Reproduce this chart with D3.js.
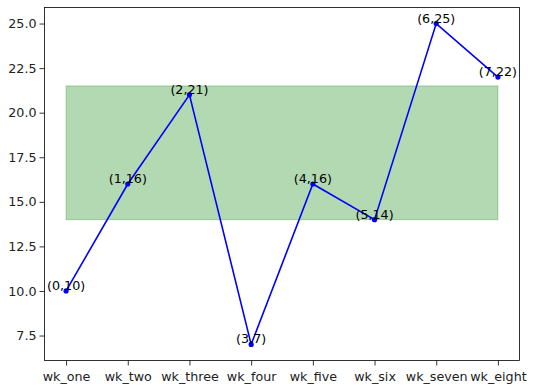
<!DOCTYPE html>
<html>
<head>
<meta charset="utf-8">
<script src="https://cdn.jsdelivr.net/npm/d3@7"></script>
<style>
  body { margin: 0; background: white; }
  text { font-family: "DejaVu Sans", sans-serif; }
</style>
</head>
<body>
<main></main>
<script>
const weeks = ["wk_one", "wk_two", "wk_three", "wk_four", "wk_five", "wk_six", "wk_seven", "wk_eight"]
const values = [10, 16, 21, 7, 16, 14, 25, 22]
const yTicks = [7.5, 10.0, 12.5, 15.0, 17.5, 20.0, 22.5, 25.0]
const band = [14, 21.5]

const svgWidth = 533
const svgHeight = 391
const padLeft = 44.5, padRight = 519.5, padTop = 7.5, padBottom = 360.5
const fontSize = "12.7px"

let svg = d3.select("main")
    .append("svg")
    .attr("width", svgWidth)
    .attr("height", svgHeight)
    .style("display", "block")

let xScale = d3.scaleLinear()
    .domain([-0.35, values.length - 1 + 0.35])
    .range([padLeft, padRight])

let yScale = d3.scaleLinear()
    .domain([6.1, 25.9])
    .range([padBottom, padTop])

// shaded band
svg.append("rect")
    .attr("x", xScale(0))
    .attr("y", yScale(band[1]))
    .attr("width", xScale(values.length - 1) - xScale(0))
    .attr("height", yScale(band[0]) - yScale(band[1]))
    .attr("fill", "green")
    .attr("fill-opacity", 0.3)
    .attr("stroke", "green")
    .attr("stroke-opacity", 0.3)
    .attr("stroke-width", 1)

let line = d3.line()
    .x((d, i) => xScale(i))
    .y(d => yScale(d))

svg.append("path")
    .datum(values)
    .attr("d", line)
    .attr("fill", "none")
    .attr("stroke", "blue")
    .attr("stroke-width", 1.6)

svg.selectAll("circle")
    .data(values)
    .enter()
    .append("circle")
    .attr("cx", (d, i) => xScale(i))
    .attr("cy", d => yScale(d))
    .attr("r", 2.6)
    .attr("fill", "blue")

svg.selectAll("text.lbl")
    .data(values)
    .enter()
    .append("text")
    .attr("class", "lbl")
    .attr("x", (d, i) => xScale(i))
    .attr("y", d => yScale(d))
    .attr("dy", -1)
    .attr("text-anchor", "middle")
    .style("font-size", fontSize)
    .attr("fill", "black")
    .text((d, i) => `(${i},${d})`)

let xAxis = svg.append("g")
    .attr("transform", `translate(0, ${padBottom})`)
    .call(d3.axisBottom(xScale)
        .tickValues(d3.range(weeks.length))
        .tickFormat(i => weeks[i])
        .tickSize(5)
        .tickPadding(6)
        .tickSizeOuter(0))

let yAxis = svg.append("g")
    .attr("transform", `translate(${padLeft}, 0)`)
    .call(d3.axisLeft(yScale)
        .tickValues(yTicks)
        .tickFormat(d3.format(".1f"))
        .tickSize(5)
        .tickPadding(3)
        .tickSizeOuter(0))

for (let ax of [xAxis, yAxis]) {
    ax.select("path").remove()
    ax.selectAll("text")
        .style("font-size", fontSize)
        .style("font-family", "DejaVu Sans, sans-serif")
        .attr("fill", "#222")
    ax.selectAll("line").attr("stroke", "black").attr("stroke-width", 0.8)
}

// axes frame
svg.append("rect")
    .attr("x", padLeft)
    .attr("y", padTop)
    .attr("width", padRight - padLeft)
    .attr("height", padBottom - padTop)
    .attr("fill", "none")
    .attr("stroke", "black")
    .attr("stroke-width", 0.8)
</script>
</body>
</html>
